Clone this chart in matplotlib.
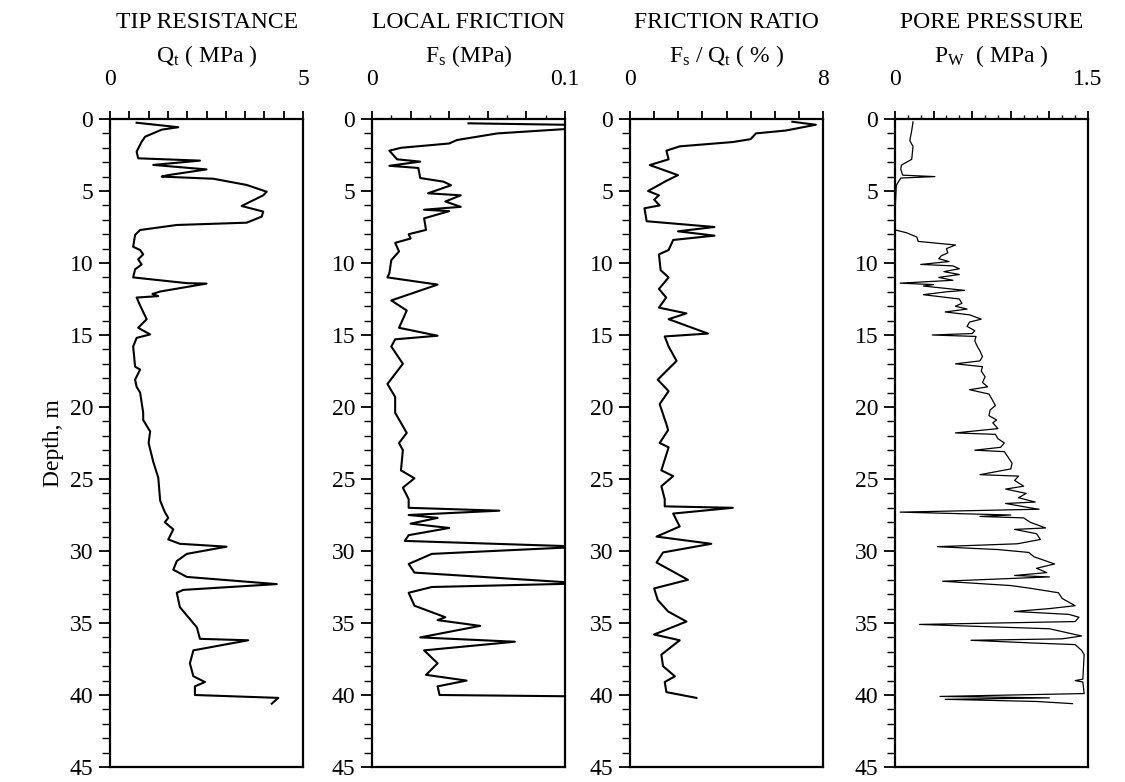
import numpy as np
import matplotlib
matplotlib.use("Agg")
import matplotlib.pyplot as plt
from matplotlib.ticker import MultipleLocator

plt.rcParams['font.family'] = ['Liberation Serif', 'DejaVu Serif']
plt.rcParams['mathtext.fontset'] = 'custom'
plt.rcParams['mathtext.rm'] = 'Liberation Serif'
plt.rcParams['mathtext.it'] = 'Liberation Serif:italic'

# --- CPT profile, values ---
# tip resistance Qt (MPa)
qt_depth = [0.26, 0.57, 0.74, 1.23, 1.58, 2.27, 2.73, 2.89, 3.19, 3.50, 3.90, 4.00,
            4.15, 4.58, 5.05, 5.30, 6.04, 6.43, 6.78, 7.20, 7.36, 7.71, 8.05, 8.87,
            9.10, 9.40, 9.75, 10.10, 10.44, 11.00, 11.40, 11.43, 11.98, 12.15, 12.30,
            12.40, 12.95, 13.90, 14.50, 14.96, 15.20, 15.80, 17.20, 17.40, 18.10, 18.60,
            19.00, 20.40, 20.90, 21.70, 22.50, 23.80, 24.90, 26.50, 27.30, 27.70, 28.00,
            28.50, 29.20, 29.50, 29.70, 30.20, 30.70, 31.30, 31.80, 32.30, 32.70, 32.90,
            33.90, 34.60, 35.30, 36.10, 36.20, 36.90, 37.80, 38.70, 39.10, 39.40, 40.00,
            40.20, 40.60]
qt_val = [0.69, 1.77, 1.34, 0.91, 0.82, 0.69, 0.73, 2.33, 1.12, 2.50, 1.50, 1.34,
          2.68, 3.54, 4.06, 3.97, 3.41, 3.97, 3.93, 3.54, 1.73, 0.78, 0.65, 0.60,
          0.78, 0.86, 0.73, 0.82, 0.65, 0.60, 1.99, 2.50, 1.30, 1.10, 1.25,
          0.69, 0.78, 0.95, 0.73, 1.04, 0.69, 0.60, 0.65, 0.78, 0.65, 0.69,
          0.78, 0.86, 0.86, 1.04, 1.00, 1.12, 1.25, 1.30, 1.42, 1.51, 1.42,
          1.64, 1.51, 1.81, 3.02, 1.99, 1.73, 1.64, 1.99, 4.32, 1.90, 1.73,
          1.81, 2.03, 2.25, 2.33, 3.58, 2.16, 2.07, 2.16, 2.46, 2.20, 2.20,
          4.36, 4.19]

# local friction Fs (MPa)
fs_depth = [0.30, 0.40, 0.55, 0.70, 1.00, 1.46, 1.70, 2.00, 2.20, 2.80, 2.96, 3.25,
            3.40, 4.10, 4.35, 4.60, 5.16, 5.30, 5.73, 6.10, 6.30, 6.40, 6.90, 7.70,
            8.00, 8.30, 8.60, 9.20, 9.80, 10.70, 11.00, 11.50, 12.60, 13.30, 14.50,
            15.05, 15.30, 15.80, 17.00, 18.40, 19.30, 20.40, 21.80, 22.50, 23.00,
            24.40, 24.95, 25.60, 26.40, 27.00, 27.20, 27.50, 27.70, 28.10, 28.40,
            28.90, 29.30, 29.70, 30.20, 30.90, 31.50, 32.25, 32.50, 32.90, 33.80,
            34.60, 34.80, 35.20, 36.00, 36.30, 36.90, 37.80, 38.60, 39.00, 39.40,
            40.00, 40.10]
fs_val = [0.050, 0.100, 0.120, 0.100, 0.065, 0.044, 0.040, 0.015, 0.009, 0.013, 0.025, 0.009,
          0.024, 0.025, 0.037, 0.041, 0.029, 0.046, 0.038, 0.046, 0.027, 0.040, 0.027, 0.028,
          0.019, 0.020, 0.012, 0.014, 0.010, 0.009, 0.008, 0.034, 0.010, 0.018, 0.014,
          0.034, 0.012, 0.010, 0.016, 0.008, 0.012, 0.012, 0.018, 0.014, 0.016,
          0.015, 0.022, 0.016, 0.019, 0.019, 0.066, 0.019, 0.034, 0.020, 0.040,
          0.019, 0.017, 0.110, 0.031, 0.019, 0.022, 0.110, 0.031, 0.019, 0.022,
          0.038, 0.034, 0.056, 0.025, 0.074, 0.027, 0.034, 0.028, 0.049, 0.034,
          0.035, 0.110]

# friction ratio Fs/Qt (%)
fr_depth = [0.19, 0.40, 0.80, 1.00, 1.40, 1.60, 1.90, 2.20, 2.80, 3.20, 3.90, 4.30,
            5.00, 5.30, 5.60, 6.00, 6.20, 7.10, 7.50, 7.80, 8.10, 8.40, 9.10, 9.40,
            10.50, 11.00, 11.80, 12.40, 13.10, 13.50, 13.90, 14.90, 15.10, 15.80,
            16.80, 18.10, 18.90, 19.80, 21.20, 21.60, 22.50, 22.80, 24.40, 24.80,
            25.50, 26.40, 26.90, 27.00, 27.40, 28.30, 29.00, 29.50, 30.10, 30.80,
            32.00, 32.60, 33.40, 34.20, 34.90, 35.80, 36.20, 37.20, 38.00, 38.70,
            39.10, 39.80, 40.20]
fr_val = [6.73, 7.70, 6.46, 5.22, 5.00, 4.26, 2.06, 1.51, 1.60, 0.82, 1.99, 1.50,
          0.75, 1.20, 1.00, 1.23, 0.60, 0.69, 3.50, 1.99, 3.50, 1.79, 1.60, 1.20,
          1.27, 1.60, 1.20, 1.50, 1.20, 2.34, 1.60, 3.23, 1.44, 1.60,
          1.93, 1.15, 1.60, 1.23, 1.51, 1.58, 1.23, 1.60, 1.30, 1.79,
          1.30, 1.44, 1.44, 4.26, 1.79, 2.06, 1.10, 3.37, 1.37, 1.10,
          2.40, 1.00, 1.15, 1.58, 2.34, 1.00, 2.06, 1.30, 1.37, 1.86,
          1.44, 1.51, 2.75]

# pore pressure Pw (MPa)
pw_depth = [0.20, 0.80, 1.50, 1.90, 2.80, 3.20, 3.50, 3.90, 4.00, 4.10, 4.60, 6.50,
            7.70, 7.90, 8.20, 8.50, 8.75, 9.00, 9.30, 9.50, 9.70, 9.90, 10.10, 10.20,
            10.40, 10.60, 10.80, 11.00, 11.20, 11.40, 11.50, 11.60, 11.90, 12.00,
            12.20, 12.50, 12.80, 13.00, 13.20, 13.40, 13.60, 13.90, 14.10, 14.40,
            14.70, 14.90, 15.00, 15.10, 15.40, 15.80, 16.10, 16.50, 16.80, 17.00,
            17.20, 17.50, 17.90, 18.30, 18.60, 18.80, 19.10, 19.40, 19.90, 20.20,
            20.60, 20.90, 21.10, 21.50, 21.80, 21.90, 22.20, 22.50, 22.80, 23.00,
            23.10, 23.50, 23.90, 24.30, 24.70, 24.80, 25.10, 25.50, 25.70, 26.00,
            26.30, 26.60, 26.70, 27.00, 27.10, 27.30, 27.50, 27.60, 27.70, 28.00,
            28.40, 28.50, 28.80, 29.20, 29.50, 29.70, 29.90, 30.10, 30.40, 30.90,
            31.20, 31.50, 31.70, 31.80, 32.10, 32.40, 32.60, 32.90, 33.30, 33.80,
            34.00, 34.20, 34.40, 34.60, 34.90, 35.10, 35.40, 35.90, 36.10, 36.20,
            36.40, 36.50, 36.90, 37.20, 38.90, 39.00, 39.10, 39.90, 40.10, 40.20,
            40.30, 40.45, 40.60]
pw_val = [0.14, 0.13, 0.115, 0.14, 0.13, 0.05, 0.045, 0.06, 0.31, 0.045, 0.01, 0.00,
          0.00, 0.09, 0.17, 0.18, 0.47, 0.40, 0.41, 0.36, 0.34, 0.42, 0.20, 0.45,
          0.50, 0.38, 0.50, 0.34, 0.45, 0.04, 0.30, 0.22, 0.54, 0.40,
          0.22, 0.50, 0.52, 0.47, 0.56, 0.39, 0.58, 0.67, 0.58, 0.56,
          0.62, 0.60, 0.29, 0.63, 0.62, 0.64, 0.66, 0.68, 0.66, 0.47,
          0.68, 0.67, 0.70, 0.68, 0.72, 0.58, 0.73, 0.75, 0.78, 0.74,
          0.73, 0.79, 0.76, 0.80, 0.47, 0.78, 0.80, 0.85, 0.82, 0.62,
          0.85, 0.88, 0.91, 0.90, 0.66, 0.96, 0.93, 1.00, 0.86, 1.02,
          0.96, 1.09, 0.86, 1.05, 1.12, 0.04, 0.90, 0.66, 1.00, 1.05,
          1.17, 0.93, 1.10, 1.13, 0.95, 0.33, 0.80, 1.04, 1.08, 1.24,
          1.10, 1.18, 0.93, 1.20, 0.37, 0.90, 1.06, 1.27, 1.30, 1.40,
          1.20, 0.93, 1.35, 1.43, 1.40, 0.19, 1.20, 1.45, 1.30, 0.59,
          1.10, 1.40, 1.45, 1.47, 1.46, 1.40, 1.46, 1.47, 0.35, 1.20,
          0.39, 1.10, 1.38]

titles = ["TIP RESISTANCE", "LOCAL FRICTION", "FRICTION RATIO", "PORE PRESSURE"]
units = [r"$\mathrm{Q_t}$ ( MPa )", r"$\mathrm{F_s}$ (MPa)",
         r"$\mathrm{F_s}$ / $\mathrm{Q_t}$ ( % )", r"$\mathrm{P_W}$  ( MPa )"]
x_max = [5, 0.1, 8, 1.5]
x_max_label = ["5", "0.1", "8", "1.5"]
x_major = [0.5, 0.02, 1, 0.3]
x_minor = [0.5, 0.01, 1, 0.1]

series = [(qt_val, qt_depth, 1.5), (fs_val, fs_depth, 1.5),
          (fr_val, fr_depth, 1.5), (pw_val, pw_depth, 0.9)]

fig = plt.figure(figsize=(11.25, 7.82), dpi=100)
W, H = 1125, 782
lefts = [110, 372, 630, 895]
top_px, bot_px = 119, 767
fs = 17

for i in range(4):
    ax = fig.add_axes([lefts[i] / W, (H - bot_px) / H, 193 / W, (bot_px - top_px) / H])
    vals, dep, lw = series[i]
    ax.plot(vals, dep, color='black', lw=lw)
    ax.set_xlim(0, x_max[i])
    ax.set_ylim(45, 0)

    # top axis with only the end labels
    ax.xaxis.tick_top()
    ticks = np.arange(0, x_max[i] + 1e-9, x_major[i])
    ax.set_xticks(ticks)
    labels = [''] * len(ticks)
    labels[0] = '0'
    labels[-1] = x_max_label[i]
    ax.set_xticklabels(labels)
    ax.xaxis.set_minor_locator(MultipleLocator(x_minor[i]))
    ax.tick_params(axis='x', which='major', direction='out', length=6, width=1.3,
                   pad=15, labelsize=fs)
    ax.tick_params(axis='x', which='minor', direction='out', length=3, width=1.0)

    ax.set_yticks(range(0, 46, 5))
    ax.yaxis.set_minor_locator(MultipleLocator(1))
    ax.tick_params(axis='y', which='major', direction='out', length=8, width=1.3,
                   pad=4, labelsize=fs)
    ax.tick_params(axis='y', which='minor', direction='out', length=6, width=1.0)

    for sp in ax.spines.values():
        sp.set_linewidth(1.6)

    cx = (lefts[i] + 96.5) / W
    fig.text(cx, 1 - 23 / H, titles[i], ha='center', va='center', fontsize=fs)
    fig.text(cx, 1 - 56 / H, units[i], ha='center', va='center', fontsize=fs)

    if i == 0:
        ax.set_ylabel("Depth, m", fontsize=fs, labelpad=4)

fig.savefig("out.png", dpi=100)
